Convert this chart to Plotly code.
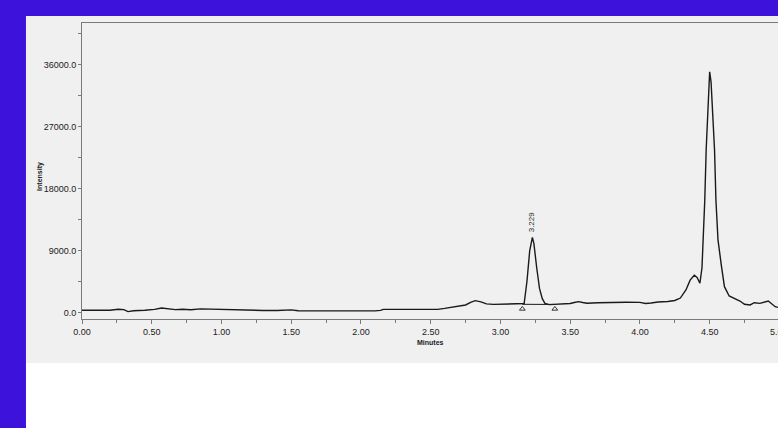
import plotly.graph_objects as go

# ---- data ----
time_min = [0.00, 0.10, 0.20, 0.26, 0.30, 0.33, 0.37, 0.45, 0.52, 0.57, 0.62, 0.67, 0.72, 0.78,
            0.85, 0.92, 1.00, 1.10, 1.15, 1.20, 1.30, 1.40, 1.46, 1.50, 1.55, 1.70, 1.90, 2.10,
            2.14, 2.16, 2.30, 2.45, 2.55, 2.60, 2.65, 2.70, 2.75, 2.79, 2.82, 2.86, 2.90, 2.95,
            3.05, 3.15, 3.17, 3.19, 3.21, 3.229, 3.24, 3.26, 3.28, 3.30, 3.32, 3.35, 3.40, 3.45,
            3.50, 3.53, 3.56, 3.59, 3.62, 3.70, 3.80, 3.90, 4.00, 4.04, 4.08, 4.13, 4.20, 4.25,
            4.29, 4.33, 4.36, 4.39, 4.41, 4.43, 4.445, 4.455, 4.465, 4.475, 4.49, 4.50, 4.51,
            4.525, 4.535, 4.545, 4.56, 4.585, 4.606, 4.64, 4.68, 4.717, 4.75, 4.79, 4.82, 4.86,
            4.92, 4.97, 5.00]
intensity = [320, 320, 330, 480, 420, 130, 250, 330, 450, 650, 560, 420, 480, 400,
             520, 480, 380, 350, 280, 330, 300, 290, 380, 380, 250, 230, 220, 230,
             300, 450, 460, 480, 460, 600, 760, 900, 1090, 1500, 1720, 1550, 1250, 1180,
             1190, 1190, 1300, 4500, 9000, 10900, 10000, 6500, 3500, 2000, 1300, 1150, 1170, 1200,
             1300, 1450, 1580, 1450, 1340, 1420, 1480, 1480, 1470, 1300, 1380, 1520, 1600, 1750,
             2100, 3270, 4700, 5400, 5100, 4250, 6500, 10500, 16300, 23600, 32000, 34950, 33500,
             28000, 23600, 16300, 10500, 6650, 3750, 2400, 2060, 1670, 1190, 1090, 1420, 1330,
             1670, 840, 700]

peak_time = 3.229
peak_height = 10900
peak_label = "3.229"
baseline_t = [3.157, 3.39]
baseline_y = [1190, 1170]
marker_y = [520, 520]

x_range = [0, 4.99]
x_tick_vals = [0.0, 0.5, 1.0, 1.5, 2.0, 2.5, 3.0, 3.5, 4.0, 4.5]
x_tick_text = ["0.00", "0.50", "1.00", "1.50", "2.00", "2.50", "3.00", "3.50", "4.00", "4.50"]
x_minor_vals = [0.25, 0.75, 1.25, 1.75, 2.25, 2.75, 3.25, 3.75, 4.25, 4.75]
x_cut_label = "5.00"
x_cut_val = 5.0
y_tick_vals = [0, 9000, 18000, 27000, 36000]
y_tick_text = ["0.0", "9000.0", "18000.0", "27000.0", "36000.0"]
y_minor_vals = [4500, 13500, 22500, 31500, 40500]

FONT = "Liberation Sans, Arial, sans-serif"
AX = "#7a7a7a"
TXT = "#222222"

fig = go.Figure()
fig.add_trace(go.Scatter(x=time_min, y=intensity, mode="lines",
                         line=dict(color="#1a1a1a", width=1.4), hoverinfo="skip",
                         showlegend=False))
fig.add_trace(go.Scatter(x=baseline_t, y=baseline_y, mode="lines",
                         line=dict(color="#1a1a1a", width=1), showlegend=False))
fig.add_trace(go.Scatter(x=baseline_t, y=marker_y, mode="markers",
                         marker=dict(symbol="triangle-up-open", size=5, color="#333",
                                     line=dict(width=1)), showlegend=False))

fig.add_annotation(x=peak_time, y=peak_height, xref="x", yref="y", text=peak_label,
                   textangle=-90, showarrow=False, yanchor="bottom", yshift=3,
                   font=dict(family=FONT, size=8, color="#1f2f2f"))
# partially cut tick label at the right edge (x in paper units from the axis range)
fig.add_annotation(x=(x_cut_val - x_range[0]) / (x_range[1] - x_range[0]), y=-0.021,
                   xref="paper", yref="paper", text=x_cut_label, xanchor="center",
                   showarrow=False, yanchor="top", font=dict(family=FONT, size=9, color=TXT))
fig.add_annotation(x=-0.0605, y=0.483, xref="paper", yref="paper", text="<b>Intensity</b>",
                   textangle=-90, showarrow=False, xanchor="center", yanchor="middle",
                   font=dict(family=FONT, size=7, color=TXT))
fig.add_annotation(x=0.5, y=-0.078, xref="paper", yref="paper", text="<b>Minutes</b>",
                   showarrow=False, xanchor="center", yanchor="middle",
                   font=dict(family=FONT, size=7, color=TXT))

# panel backgrounds
fig.add_shape(type="rect", xref="paper", yref="paper", x0=-0.0805, x1=1.01,
              y0=-0.1486, y1=1.0237, fillcolor="#f0f0f0", line_width=0, layer="below")
fig.add_shape(type="rect", xref="paper", yref="paper", x0=-0.0805, x1=1.01,
              y0=-0.37, y1=-0.1486, fillcolor="#ffffff", line_width=0, layer="below")

fig.update_layout(
    width=778, height=428,
    margin=dict(l=82, r=0, t=23, b=109),
    paper_bgcolor="#3d13dc", plot_bgcolor="#f0f0f0",
    font=dict(family=FONT, size=9, color=TXT),
    showlegend=False,
)
fig.update_xaxes(range=x_range, tickvals=x_tick_vals, ticktext=x_tick_text,
                 ticks="outside", ticklen=4, tickcolor=AX, showline=True, linecolor=AX,
                 linewidth=1, mirror=True, showgrid=False, zeroline=False,
                 minor=dict(tickvals=x_minor_vals, ticks="outside", ticklen=3, tickcolor=AX))
fig.update_yaxes(range=[-944, 42035], tickvals=y_tick_vals, ticktext=y_tick_text,
                 ticks="outside", ticklen=3, tickcolor=AX, showline=True, linecolor=AX,
                 linewidth=1, showgrid=False, zeroline=False,
                 minor=dict(tickvals=y_minor_vals, ticks="outside", ticklen=3, tickcolor=AX))

fig.write_html("out.html", config={"displayModeBar": False},
               post_script="document.body.style.margin='0';document.body.style.overflow='hidden';")
